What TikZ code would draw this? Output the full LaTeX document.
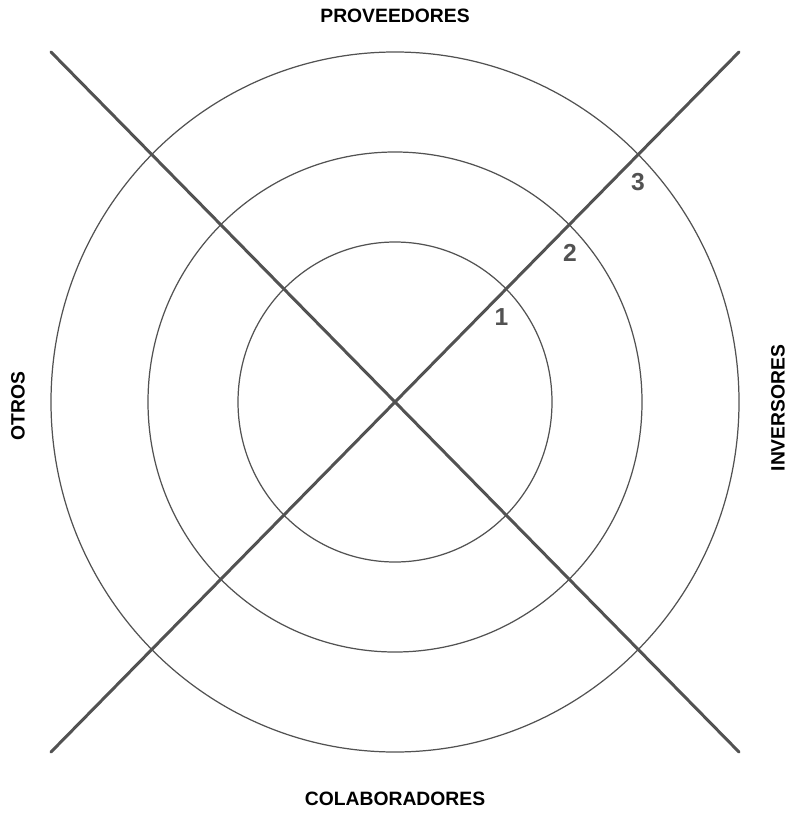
\documentclass[tikz,border=0pt]{standalone}
\usepackage{fontspec}
\setmainfont{Liberation Sans}
\usepackage{tikz}
\usetikzlibrary{positioning}
\usepackage{xcolor}
\definecolor{grisoscuro}{RGB}{82, 82, 82}

\begin{document}
\begin{tikzpicture}[x=0.02cm, y=-0.02cm,
  anillo/.style={draw=grisoscuro, line width=0.7pt},
  eje/.style={draw=grisoscuro, line width=1.7pt},
  grupo/.style={font=\bfseries\fontsize{11}{13}\selectfont, inner sep=0pt},
  nivel/.style={text=grisoscuro, font=\bfseries\fontsize{14}{16}\selectfont, inner sep=1pt}]
  \useasboundingbox (0,0) rectangle (793,814);

  % Centre and corners
  \coordinate (C) at (395, 402);
  \coordinate (NO) at (51, 52);
  \coordinate (NE) at (739, 52);
  \coordinate (SO) at (51, 752);
  \coordinate (SE) at (739, 752);

  % Rings
  \draw[anillo] (C) circle[x radius=157, y radius=160];
  \draw[anillo] (C) circle[x radius=247, y radius=250];
  \draw[anillo] (C) circle[x radius=344, y radius=350];

  % Diagonals
  \draw[eje, line cap=round] (NO) -- (SE);
  \draw[eje, line cap=round] (SO) -- (NE);

  % Ring numbers (below the crossing with the diagonal)
  \coordinate (P1) at (505, 289);
  \coordinate (P2) at (570, 226);
  \coordinate (P3) at (638, 155);
  \node[nivel, below=10pt of P1, xshift=-2pt] (n1) {1};
  \node[nivel, below=9pt of P2] (n2) {2};
  \node[nivel, below=9pt of P3] (n3) {3};

  % Groups
  \node[grupo] (prov) at (395, 16) {PROVEEDORES};
  \node[grupo] (cola) at (395, 799) {COLABORADORES};
  \node[grupo, rotate=90] (otros) at (18, 406) {OTROS};
  \node[grupo, rotate=90] (inve) at (778, 408) {INVERSORES};
\end{tikzpicture}
\end{document}
